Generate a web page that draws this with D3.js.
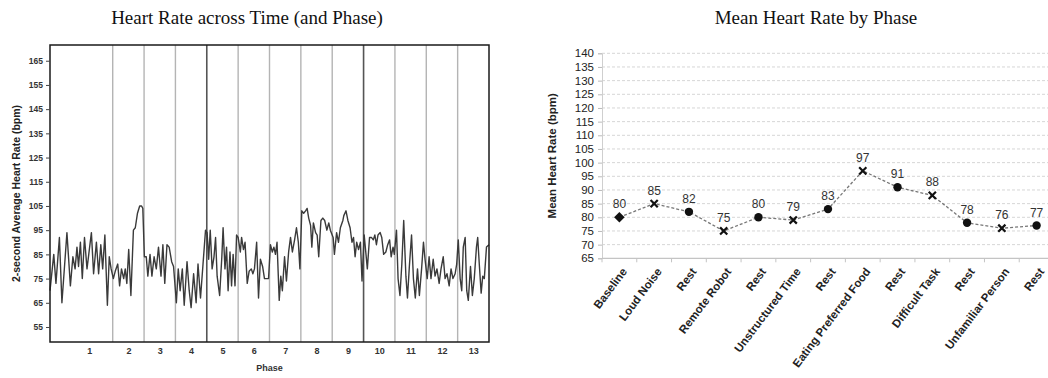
<!DOCTYPE html>
<html>
<head>
<meta charset="utf-8">
<script src="https://cdn.jsdelivr.net/npm/d3@7"></script>
<style>
  html, body { margin: 0; padding: 0; background: #fff; }
  svg { display: block; }
</style>
</head>
<body>
<svg id="chart" width="1048" height="378"></svg>
<script>
// ---- Left panel: 2-second average heart rate, [minute, bpm] ----
const heartRateTrace = [
  [0, 70], [0.12, 85], [0.19, 73], [0.30, 92], [0.38, 65], [0.54, 94], [0.65, 72], [0.73, 84],
  [0.80, 79], [0.86, 88], [0.91, 80], [0.97, 90], [1.03, 75], [1.10, 92], [1.18, 79], [1.32, 94],
  [1.39, 77], [1.48, 90], [1.55, 77], [1.62, 89], [1.68, 79], [1.75, 93], [1.83, 64], [1.89, 84],
  [1.95, 79], [2.02, 75],
  [2.08, 78], [2.16, 81], [2.22, 72], [2.28, 79], [2.35, 75], [2.40, 79], [2.45, 73], [2.51, 87],
  [2.58, 68], [2.66, 95], [2.72, 96], [2.79, 102], [2.86, 105], [2.92, 105], [2.96, 104], [3.01, 84],
  [3.07, 84], [3.12, 76], [3.19, 85], [3.25, 76], [3.32, 84], [3.39, 79], [3.46, 88], [3.54, 76],
  [3.60, 89], [3.66, 73], [3.73, 89], [3.80, 88], [3.88, 82], [3.94, 80],
  [4.03, 65], [4.09, 79], [4.15, 70], [4.22, 79], [4.28, 64], [4.37, 82], [4.44, 70], [4.50, 63],
  [4.58, 77], [4.66, 65], [4.72, 81], [4.80, 67], [4.88, 81], [4.96, 95],
  [5.01, 94], [5.06, 83], [5.11, 95], [5.17, 79], [5.23, 84], [5.28, 92], [5.33, 76], [5.41, 68],
  [5.48, 84], [5.52, 96], [5.58, 79], [5.63, 88], [5.68, 70], [5.74, 86], [5.79, 72], [5.84, 85],
  [5.90, 72], [5.95, 93],
  [6.00, 92], [6.07, 86], [6.11, 92], [6.17, 87], [6.22, 90], [6.29, 73], [6.35, 78], [6.42, 79],
  [6.47, 77], [6.52, 79], [6.59, 90], [6.65, 67], [6.71, 83], [6.78, 80], [6.84, 75], [6.90, 75],
  [6.97, 75],
  [7.03, 89], [7.09, 86], [7.14, 88], [7.19, 85], [7.24, 90], [7.31, 66], [7.36, 76], [7.41, 70],
  [7.48, 84], [7.54, 74], [7.61, 86], [7.67, 92], [7.73, 86], [7.80, 91], [7.86, 96], [7.92, 90],
  [7.97, 79],
  [8.03, 103], [8.09, 102], [8.15, 103], [8.20, 104], [8.25, 100], [8.31, 97], [8.35, 88], [8.40, 98],
  [8.47, 94], [8.52, 93], [8.57, 84], [8.64, 99], [8.70, 100], [8.76, 99], [8.83, 95], [8.89, 98],
  [8.94, 95],
  [9.03, 92], [9.07, 85], [9.14, 94], [9.20, 90], [9.26, 96], [9.34, 99], [9.37, 101], [9.44, 103],
  [9.50, 99], [9.57, 96], [9.63, 90], [9.68, 92], [9.73, 84], [9.78, 90], [9.84, 87], [9.90, 90],
  [9.95, 74],
  [10.02, 93], [10.07, 86], [10.12, 79], [10.19, 92], [10.25, 92], [10.31, 91], [10.36, 93], [10.41, 89],
  [10.46, 93], [10.53, 94], [10.58, 92], [10.64, 85], [10.71, 86], [10.77, 89], [10.83, 91], [10.88, 84],
  [10.94, 88], [10.98, 85],
  [11.05, 95], [11.10, 75], [11.16, 68], [11.22, 81], [11.28, 99], [11.35, 76], [11.40, 67], [11.46, 80],
  [11.53, 93], [11.59, 75], [11.65, 67], [11.72, 79], [11.78, 68], [11.85, 79], [11.91, 90], [11.96, 83],
  [12.03, 75], [12.09, 84], [12.15, 75], [12.22, 83], [12.28, 76], [12.34, 79], [12.41, 73], [12.47, 79],
  [12.54, 84], [12.60, 75], [12.66, 77], [12.73, 72], [12.79, 79], [12.85, 75], [12.92, 77], [12.97, 81],
  [13.02, 91], [13.08, 75], [13.13, 70], [13.18, 88], [13.24, 92], [13.29, 70], [13.34, 66], [13.41, 80],
  [13.47, 68], [13.53, 75], [13.60, 88], [13.64, 92], [13.69, 81], [13.75, 69], [13.80, 76], [13.85, 75],
  [13.92, 88], [14.0, 89]
];
// minute at which each new phase begins
const phaseStartMinutes = [2, 3, 4, 5, 6, 7, 8, 9, 10, 11, 12, 13];
// phase numbers and where their labels sit on the time axis
const phaseNumbers = [1, 2, 3, 4, 5, 6, 7, 8, 9, 10, 11, 12, 13];
const phaseLabelMinutes = [1.25, 2.5, 3.5, 4.5, 5.5, 6.5, 7.5, 8.5, 9.5, 10.5, 11.5, 12.5, 13.5];
const hrTicks = [55, 65, 75, 85, 95, 105, 115, 125, 135, 145, 155, 165];

// ---- Right panel: mean heart rate per phase ----
const phaseNames = ["Baseline", "Loud Noise", "Rest", "Remote Robot", "Rest", "Unstructured Time",
  "Rest", "Eating Preferred Food", "Rest", "Difficult Task", "Rest", "Unfamiliar Person", "Rest"];
const meanHeartRate = [80, 85, 82, 75, 80, 79, 83, 97, 91, 88, 78, 76, 77];
const meanTicks = [65, 70, 75, 80, 85, 90, 95, 100, 105, 110, 115, 120, 125, 130, 135, 140];

const svg = d3.select("#chart");
const serif = "'Liberation Serif', 'Times New Roman', serif";
const sans = "'Liberation Sans', Arial, sans-serif";

// ================= Left panel =================
const L = { left: 50, right: 489, top: 45, bottom: 342 };
const xL = d3.scaleLinear().domain([0, 14]).range([L.left, L.right]);
const yL = d3.scaleLinear().domain([48.8, 171.5]).range([L.bottom, L.top]);

svg.append("text")
  .attr("x", 247).attr("y", 24)
  .attr("text-anchor", "middle")
  .style("font-family", serif).style("font-size", "19px").style("fill", "#111")
  .text("Heart Rate across Time (and Phase)");

const gL = svg.append("g");

// phase dividers
gL.selectAll("line.divider").data(phaseStartMinutes).join("line")
  .attr("class", "divider")
  .attr("x1", d => xL(d)).attr("x2", d => xL(d))
  .attr("y1", L.top).attr("y2", L.bottom)
  .attr("stroke", d => d % 5 === 0 ? "#555" : "#b4b4b4")
  .attr("stroke-width", d => d % 5 === 0 ? 1.6 : 1.4);

// heart rate trace
const lineL = d3.line().x(d => xL(d[0])).y(d => yL(d[1]));
gL.append("path")
  .datum(heartRateTrace)
  .attr("d", lineL)
  .attr("fill", "none")
  .attr("stroke", "#3a3a3a")
  .attr("stroke-width", 1.4)
  .attr("stroke-linejoin", "round");

// frame
gL.append("rect")
  .attr("x", L.left).attr("y", L.top)
  .attr("width", L.right - L.left).attr("height", L.bottom - L.top)
  .attr("fill", "none").attr("stroke", "#1a1a1a").attr("stroke-width", 1.5);

// y axis
const yAxisL = d3.axisLeft(yL).tickValues(hrTicks).tickSize(4).tickPadding(3);
const gyL = gL.append("g").attr("transform", `translate(${L.left},0)`).call(yAxisL);
gyL.select(".domain").remove();
gyL.selectAll("line").attr("stroke", "#444");
gyL.selectAll("text").style("font-family", sans).style("font-size", "8.5px")
  .style("font-weight", "bold").style("fill", "#333");

// x axis: phase numbers
const xAxisL = d3.axisBottom(xL).tickValues(phaseLabelMinutes)
  .tickFormat((d, i) => phaseNumbers[i]).tickSize(0).tickPadding(6);
const gxL = gL.append("g").attr("transform", `translate(0,${L.bottom})`).call(xAxisL);
gxL.select(".domain").remove();
gxL.selectAll("text").style("font-family", sans).style("font-size", "9px")
  .style("font-weight", "bold").style("fill", "#333");

svg.append("text")
  .attr("x", (L.left + L.right) / 2).attr("y", 371)
  .attr("text-anchor", "middle")
  .style("font-family", sans).style("font-size", "9px").style("font-weight", "bold").style("fill", "#333")
  .text("Phase");

svg.append("text")
  .attr("transform", `translate(20,${(L.top + L.bottom) / 2}) rotate(-90)`)
  .attr("text-anchor", "middle")
  .style("font-family", sans).style("font-size", "10.5px").style("font-weight", "bold").style("fill", "#222")
  .text("2-second Average Heart Rate (bpm)");

// ================= Right panel =================
const R = { left: 602, right: 1054, top: 53.3, bottom: 258.3 };
const xR = d3.scaleBand().domain(d3.range(phaseNames.length)).range([R.left, R.right]);
const yR = d3.scaleLinear().domain([65, 140]).range([R.bottom, R.top]);
const cx = i => xR(i) + xR.bandwidth() / 2;

svg.append("text")
  .attr("x", 816).attr("y", 24)
  .attr("text-anchor", "middle")
  .style("font-family", serif).style("font-size", "19px").style("fill", "#111")
  .text("Mean Heart Rate by Phase");

const gR = svg.append("g");

// gridlines
gR.selectAll("line.grid").data(meanTicks.filter(t => t > 65)).join("line")
  .attr("class", "grid")
  .attr("x1", R.left).attr("x2", R.right)
  .attr("y1", d => yR(d)).attr("y2", d => yR(d))
  .attr("stroke", "#d6d6d6").attr("stroke-width", 1).attr("stroke-dasharray", "3,2");

// y axis
const yAxisR = d3.axisLeft(yR).tickValues(meanTicks).tickSize(4).tickPadding(4);
const gyR = gR.append("g").attr("transform", `translate(${R.left},0)`).call(yAxisR);
gyR.select(".domain").attr("stroke", "#cfcfcf");
gyR.selectAll(".tick line").attr("stroke", "#bbb");
gyR.selectAll("text").style("font-family", sans).style("font-size", "11.5px").style("fill", "#222");

// x axis line with ticks between categories
gR.append("line")
  .attr("x1", R.left).attr("x2", R.right)
  .attr("y1", yR(65)).attr("y2", yR(65))
  .attr("stroke", "#c4c4c4").attr("stroke-width", 1.2);
gR.selectAll("line.xtick").data(d3.range(phaseNames.length + 1)).join("line")
  .attr("class", "xtick")
  .attr("x1", d => R.left + d * xR.step()).attr("x2", d => R.left + d * xR.step())
  .attr("y1", yR(65)).attr("y2", yR(65) + 4)
  .attr("stroke", "#c4c4c4");

// category labels
gR.selectAll("text.cat").data(phaseNames).join("text")
  .attr("class", "cat")
  .attr("transform", (d, i) => `translate(${cx(i) + 5},${yR(65) + 11}) rotate(-53)`)
  .attr("text-anchor", "end")
  .attr("dy", "0.35em")
  .style("font-family", sans).style("font-size", "11.5px").style("font-weight", "bold").style("fill", "#222")
  .text(d => d);

// dashed connecting line
const lineR = d3.line().x((d, i) => cx(i)).y(d => yR(d));
gR.append("path")
  .datum(meanHeartRate)
  .attr("d", lineR)
  .attr("fill", "none")
  .attr("stroke", "#777")
  .attr("stroke-width", 1.3)
  .attr("stroke-dasharray", "3,2");

// markers: diamond for baseline, circle for rest, cross for stimulus phases
const markerKind = name => name === "Baseline" ? "diamond" : (name === "Rest" ? "circle" : "cross");
const marks = gR.selectAll("g.mark").data(meanHeartRate).join("g")
  .attr("class", "mark")
  .attr("transform", (d, i) => `translate(${cx(i)},${yR(d)})`);
marks.each(function (d, i) {
  const g = d3.select(this);
  const kind = markerKind(phaseNames[i]);
  if (kind === "circle") {
    g.append("circle").attr("r", 4.2).attr("fill", "#111");
  } else if (kind === "diamond") {
    g.append("path").attr("d", d3.symbol(d3.symbolDiamond2, 70)()).attr("fill", "#111");
  } else {
    g.append("path").attr("d", "M-3.6,-3.6L3.6,3.6M-3.6,3.6L3.6,-3.6")
      .attr("stroke", "#111").attr("stroke-width", 2.2).attr("fill", "none");
  }
});

// value labels
gR.selectAll("text.val").data(meanHeartRate).join("text")
  .attr("class", "val")
  .attr("x", (d, i) => cx(i))
  .attr("y", d => yR(d) - 9)
  .attr("text-anchor", "middle")
  .style("font-family", sans).style("font-size", "12px").style("fill", "#333")
  .text(d => d);

svg.append("text")
  .attr("transform", `translate(556,${(R.top + R.bottom) / 2}) rotate(-90)`)
  .attr("text-anchor", "middle")
  .style("font-family", sans).style("font-size", "11.5px").style("font-weight", "bold").style("fill", "#222")
  .text("Mean Heart Rate (bpm)");
</script>
</body>
</html>
